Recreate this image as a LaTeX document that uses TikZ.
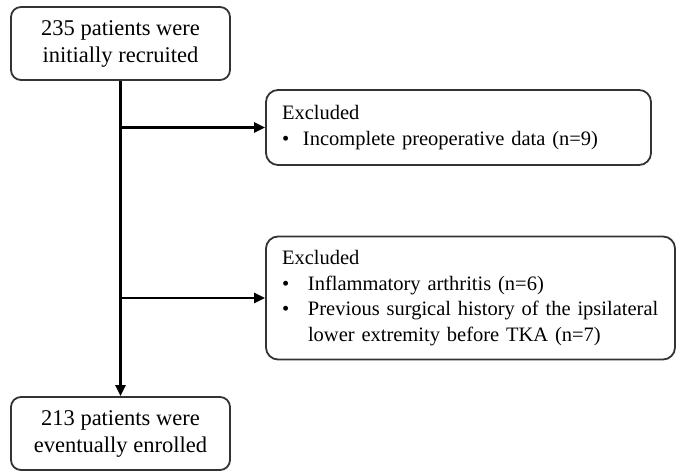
\documentclass[tikz,border=0pt]{standalone}
\usepackage{fontspec}
\setmainfont{Liberation Serif}
\usetikzlibrary{arrows.meta}
\tikzset{
  mainbox/.style={draw=black!80, line width=1.8pt, rounded corners=10pt, minimum width=219pt, minimum height=73pt, align=center, inner sep=0pt, font=\fontsize{22.5}{27}\selectfont},
  sidebox/.style={draw=black!80, line width=1.8pt, rounded corners=12pt, align=left, inner xsep=16pt, inner ysep=0pt, anchor=center, font=\fontsize{20.5}{25.5}\selectfont},
  flow/.style={line width=2.8pt, -{Triangle[length=11pt,width=10pt]}},
  trunk/.style={line width=2.8pt}
}
\begin{document}
\begin{tikzpicture}[x=1pt,y=1pt]
\useasboundingbox (0,0) rectangle (685,476);
\node[mainbox] (b1) at (120.5,432.5) {235 patients were\\initially recruited};
\node[mainbox] (b4) at (120.5,42.5) {213 patients were\\eventually enrolled};
\node[sidebox, minimum width=385pt, minimum height=75pt, text width=353pt] (b2) at (458.5,348.5)
  {Excluded\\\makebox[21pt][l]{•}Incomplete preoperative data (n=9)};
\node[sidebox, minimum width=409pt, minimum height=123pt, text width=377pt] (b3) at (470.5,178)
  {Excluded\\\makebox[26pt][l]{•}Inflammatory arthritis (n=6)\\\makebox[26pt][l]{•}Previous surgical history of the ipsilateral\\\hspace*{26pt}lower extremity before TKA (n=7)};
\draw[flow] (b1.south) -- (b4.north);
\draw[flow] (b1.south |- b2.west) -- (b2.west);
\draw[flow] (b1.south |- b3.west) -- (b3.west);
\end{tikzpicture}
\end{document}
